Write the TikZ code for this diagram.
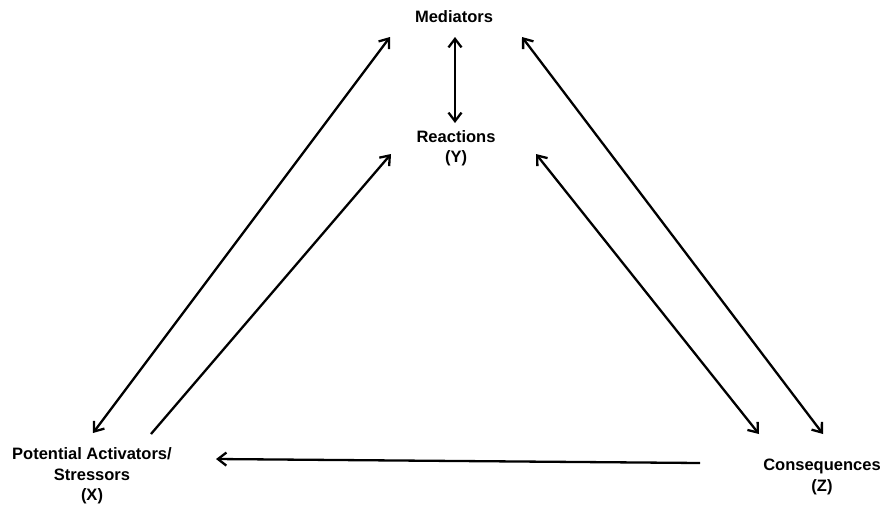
\documentclass[tikz,border=0pt]{standalone}
\usepackage{fontspec}
\setmainfont{Liberation Sans}
\usetikzlibrary{arrows.meta}
\begin{document}
\begin{tikzpicture}[x=1pt,y=-1pt,
  lbl/.style={inner sep=0pt,align=center,font=\bfseries\fontsize{16.5}{20.5}\selectfont},
  tip/.style={Straight Barb[length=8.5pt,width=13pt,line width=2.2pt]},
  conn/.style={line width=2.3pt,-{Straight Barb[length=8.5pt,width=13pt]}},
  bconn/.style={line width=2.3pt,{Straight Barb[length=8.5pt,width=13pt]}-{Straight Barb[length=8.5pt,width=13pt]}}]
\useasboundingbox (0,0) rectangle (884,507);
\node[lbl] (med) at (454,17) {Mediators};
\node[lbl] (rea) at (456,148) {Reactions\\(Y)};
\node[lbl] (act) at (92,476) {Potential Activators/\\Stressors\\(X)};
\node[lbl] (con) at (822,477) {Consequences\\(Z)};
% connector end points tied to the nodes
\coordinate (medB) at ([shift={(1,20)}]med.center);
\coordinate (reaT) at ([shift={(-1,-25)}]rea.center);
\coordinate (medL) at ([shift={(-64,20)}]med.center);
\coordinate (medR) at ([shift={(68,20)}]med.center);
\coordinate (reaL) at ([shift={(-65,6)}]rea.center);
\coordinate (reaR) at ([shift={(80,6)}]rea.center);
\coordinate (actT) at ([shift={(1,-43)}]act.center);
\coordinate (actI) at ([shift={(59,-42)}]act.center);
\coordinate (actR) at ([shift={(124,-17)}]act.center);
\coordinate (conL) at ([shift={(-122,-14)}]con.center);
\coordinate (conI) at ([shift={(-63,-43)}]con.center);
\coordinate (conT) at ([shift={(1,-43)}]con.center);
\draw[bconn] (medB) -- (reaT);
\draw[bconn] (actT) -- (medL);
\draw[conn] (actI) -- (reaL);
\draw[bconn] (medR) -- (conT);
\draw[bconn] (reaR) -- (conI);
\draw[conn] (conL) -- (actR);
\end{tikzpicture}
\end{document}
